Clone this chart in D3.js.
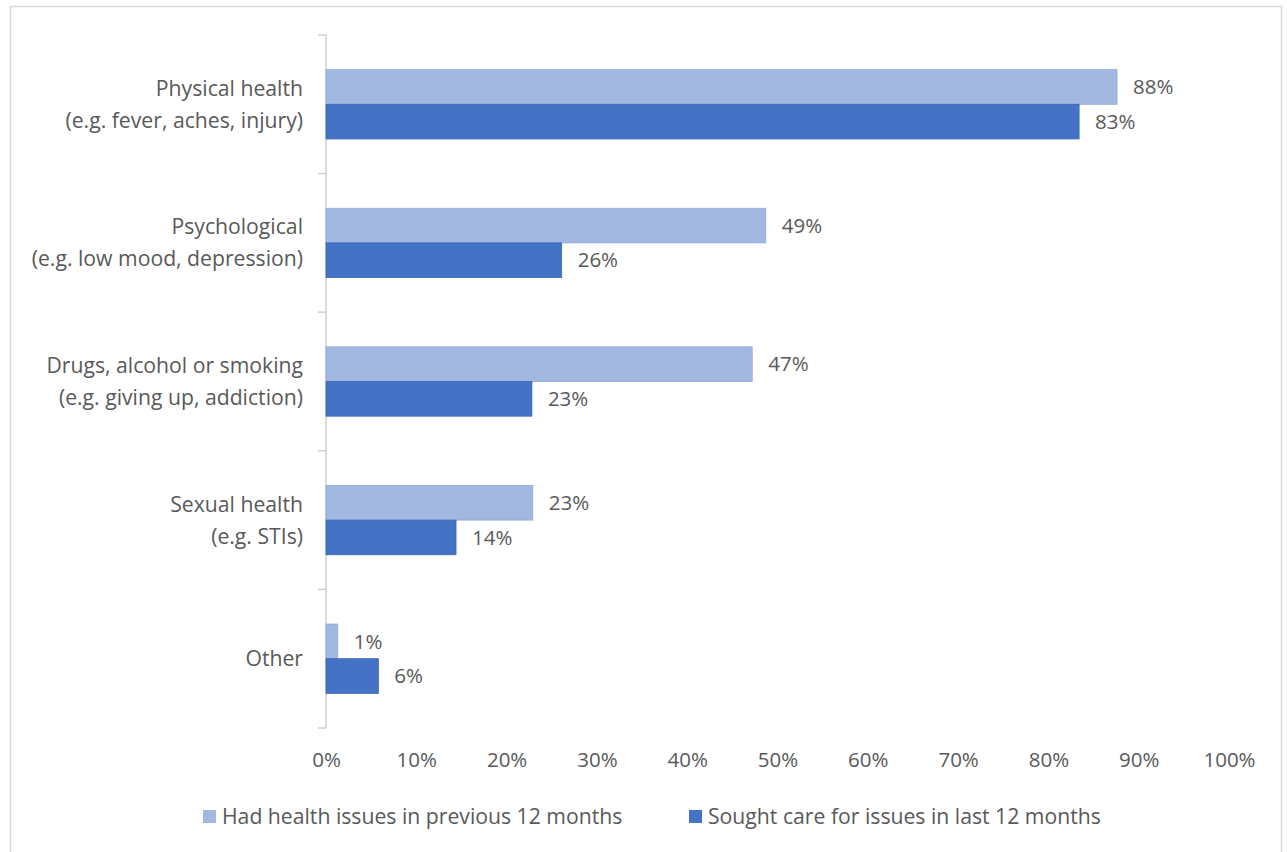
<!DOCTYPE html>
<html>
<head>
<meta charset="utf-8">
<script src="https://cdn.jsdelivr.net/npm/d3@7"></script>
<style>
  html, body { margin: 0; padding: 0; background: #fff; }
  text { font-family: "Open Sans", sans-serif; fill: #595959; }
</style>
</head>
<body>
<svg id="chart"></svg>
<script>
var width = 1287
var height = 852

// data
var categories = [
  ["Physical health", "(e.g. fever, aches, injury)"],
  ["Psychological", "(e.g. low mood, depression)"],
  ["Drugs, alcohol or smoking", "(e.g. giving up, addiction)"],
  ["Sexual health", "(e.g. STIs)"],
  ["Other"]
]
var seriesNames = ["Had health issues in previous 12 months", "Sought care for issues in last 12 months"]
var hadIssues = [0.876, 0.487, 0.472, 0.229, 0.013]
var soughtCare = [0.834, 0.261, 0.228, 0.144, 0.058]
var tickValues = [0, 0.1, 0.2, 0.3, 0.4, 0.5, 0.6, 0.7, 0.8, 0.9, 1]

var colors = ["#A2B8E1", "#4472C4"]
var strokes = ["#8FA9DA", "#3A66B8"]
var fontSize = 20.5   // ticks + data labels
var labelSize = 21.2  // category + legend text

var svg = d3.select("#chart")
    .attr("width", width)
    .attr("height", height)

// outer chart frame
svg.append("rect")
    .attr("x", 10.5)
    .attr("y", 6.5)
    .attr("width", 1271)
    .attr("height", 870)
    .attr("fill", "none")
    .attr("stroke", "#D9D9D9")
    .attr("stroke-width", 1.5)

var x = d3.scaleLinear()
    .domain([0, 1])
    .range([326, 1229])

var y = d3.scaleBand()
    .domain(d3.range(categories.length))
    .range([35, 728])
    .paddingInner(0)

var bw = y.bandwidth()
var ySub = d3.scaleBand()
    .domain([0, 1])
    .range([bw * 0.25, bw * 0.75])

var fmt = d3.format(".0%")

// x tick labels (no gridlines in the original)
var xAxis = d3.axisBottom(x)
    .tickValues(tickValues)
    .tickFormat(fmt)
    .tickSize(0)
    .tickPadding(0)

var gx = svg.append("g")
    .attr("transform", "translate(0," + 767 + ")")
    .call(xAxis)
gx.select(".domain").remove()
gx.selectAll("text")
    .attr("dy", 0)
    .style("font-size", fontSize + "px")
    .style("font-family", "'Open Sans', sans-serif")
    .attr("fill", "#595959")

// category axis line with ticks between categories
svg.append("line")
    .attr("x1", x(0)).attr("x2", x(0))
    .attr("y1", y.range()[0]).attr("y2", y.range()[1])
    .attr("stroke", "#D0D0D0")
    .attr("stroke-width", 1.5)

var boundaries = d3.range(categories.length + 1).map(function(i) { return y.range()[0] + i * bw })
svg.selectAll(".ytick")
    .data(boundaries)
    .join("line")
    .attr("class", "ytick")
    .attr("x1", x(0) - 8).attr("x2", x(0))
    .attr("y1", function(d) { return d }).attr("y2", function(d) { return d })
    .attr("stroke", "#D0D0D0")
    .attr("stroke-width", 1.5)

// category labels, right aligned
var catG = svg.selectAll(".cat")
    .data(categories)
    .join("text")
    .attr("class", "cat")
    .attr("text-anchor", "end")
    .style("font-size", labelSize + "px")
catG.each(function(lines, i) {
    var cy = y(i) + bw / 2
    var lh = 32
    var top = cy - (lines.length - 1) * lh / 2
    d3.select(this).selectAll("tspan")
        .data(lines)
        .join("tspan")
        .attr("x", 303)
        .attr("y", function(d, j) { return top + j * lh })
        .attr("dy", "0.35em")
        .text(function(d) { return d })
})

// bars
var series = [hadIssues, soughtCare]
series.forEach(function(vals, s) {
    svg.selectAll(".bar" + s)
        .data(vals)
        .join("rect")
        .attr("class", "bar" + s)
        .attr("x", x(0))
        .attr("y", function(d, i) { return y(i) + ySub(s) })
        .attr("width", function(d) { return x(d) - x(0) })
        .attr("height", ySub.bandwidth())
        .attr("fill", colors[s])
        .attr("stroke", strokes[s])
        .attr("stroke-width", 0.8)

    svg.selectAll(".lab" + s)
        .data(vals)
        .join("text")
        .attr("class", "lab" + s)
        .attr("x", function(d) { return x(d) + 16 })
        .attr("y", function(d, i) { return y(i) + ySub(s) + ySub.bandwidth() / 2 })
        .attr("dy", "0.35em")
        .style("font-size", fontSize + "px")
        .text(function(d) { return fmt(d) })
})

// legend
var legendX = [203, 689]
var legend = svg.selectAll(".leg")
    .data(seriesNames)
    .join("g")
    .attr("class", "leg")
    .attr("transform", function(d, i) { return "translate(" + legendX[i] + ",810)" })
legend.append("rect")
    .attr("width", 13)
    .attr("height", 13)
    .attr("fill", function(d, i) { return colors[i] })
legend.append("text")
    .attr("x", 19)
    .attr("y", 6.5)
    .attr("dy", "0.35em")
    .style("font-size", labelSize + "px")
    .text(function(d) { return d })
</script>
</body>
</html>
